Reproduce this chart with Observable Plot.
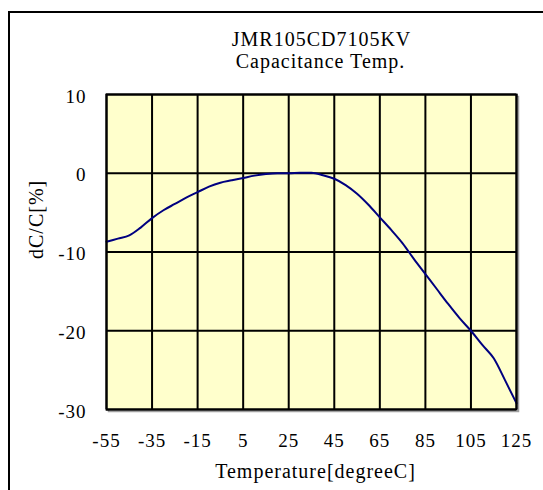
<!DOCTYPE html>
<html><head><meta charset="utf-8">
<script src="https://cdn.jsdelivr.net/npm/d3@7"></script>
<script src="https://cdn.jsdelivr.net/npm/@observablehq/plot@0.6"></script>
<style>
html,body{margin:0;padding:0;background:#fff;overflow:hidden;}
#wrap{position:relative;width:543px;height:490px;overflow:hidden;}
#chart svg{display:block;}
#border{position:absolute;left:8px;top:11px;width:600px;height:600px;border-left:2px solid #000;border-top:2px solid #000;pointer-events:none;}
</style></head><body>
<div id="wrap"><div id="chart"></div><div id="border"></div></div>
<script>
const titleLines = ["JMR105CD7105KV", "Capacitance Temp."];
const xLabel = "Temperature[degreeC]";
const yLabel = "dC/C[%]";
const xTicks = [-55, -35, -15, 5, 25, 45, 65, 85, 105, 125];
const yTicks = [-30, -20, -10, 0, 10];
const temps = [-55,-50,-45,-40,-35,-30,-25,-20,-15,-10,-5,0,5,10,15,20,25,30,35,40,45,50,55,60,65,70,75,80,85,90,95,100,105,110,115,120,125];
const dcc = [-8.7,-8.3,-7.9,-6.9,-5.7,-4.7,-3.9,-3.1,-2.4,-1.7,-1.2,-0.9,-0.6,-0.3,-0.1,0,0,0.05,0.05,-0.25,-0.7,-1.5,-2.6,-4.0,-5.6,-7.2,-8.9,-10.9,-12.8,-14.7,-16.6,-18.4,-20.0,-21.8,-23.5,-26.3,-29.2];
const data = temps.map((t, i) => ({t, v: dcc[i]}));

const font = "Liberation Serif";
const fmt = d => String(d);
const chart = Plot.plot({
  width: 543, height: 490,
  marginLeft: 106, marginRight: 27, marginTop: 94, marginBottom: 81,
  style: {fontFamily: font, fontSize: "19px", letterSpacing: "1px", color: "#000", background: "#fff"},
  x: {domain: [-55, 125]},
  y: {domain: [-30, 10]},
  marks: [
    Plot.frame({stroke: "#a0a0a0", strokeWidth: 1.5, dx: 2, dy: 2}),
    Plot.frame({fill: "#FFFFCC", stroke: null}),
    Plot.gridX(xTicks, {stroke: "#000", strokeOpacity: 1, strokeWidth: 2}),
    Plot.gridY(yTicks, {stroke: "#000", strokeOpacity: 1, strokeWidth: 2}),
    Plot.line(data, {x: "t", y: "v", curve: "monotone-x", stroke: "#000080", strokeWidth: 2}),
    Plot.frame({stroke: "#000", strokeWidth: 2}),
    Plot.axisX({ticks: xTicks, tickFormat: fmt, tickSize: 0, tickPadding: 24, label: null, fontSize: 19}),
    Plot.axisY({ticks: yTicks, tickFormat: fmt, tickSize: 0, tickPadding: 20, label: null, fontSize: 19, dy: 2}),
    Plot.text([titleLines[0]], {frameAnchor: "top", lineAnchor: "bottom", dy: -49, dx: 10, fontSize: 20}),
    Plot.text([titleLines[1]], {frameAnchor: "top", lineAnchor: "bottom", dy: -27, dx: 9, fontSize: 20}),
    Plot.text([xLabel], {frameAnchor: "bottom", lineAnchor: "bottom", dy: 68, dx: 4, fontSize: 20}),
    Plot.text([yLabel], {frameAnchor: "left", lineAnchor: "middle", rotate: -90, dx: -70, dy: 7, fontSize: 20})
  ]
});
document.getElementById("chart").appendChild(chart);
</script>
</body></html>
